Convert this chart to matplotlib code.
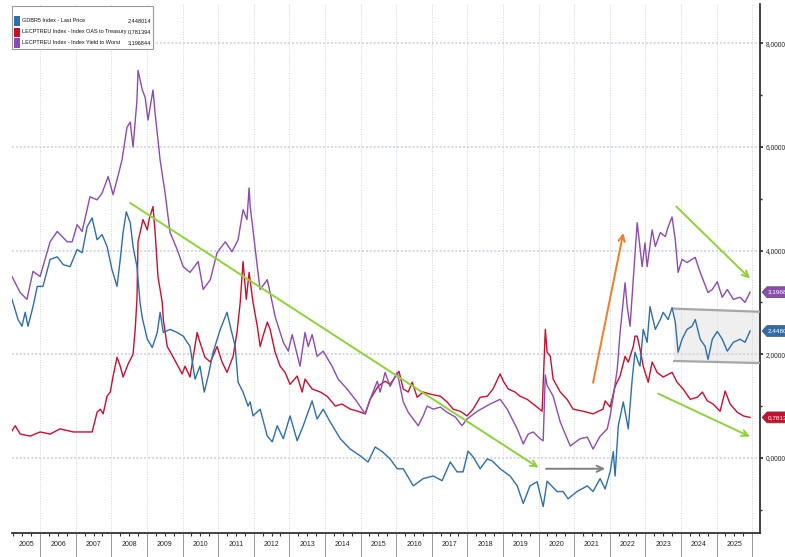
import matplotlib
matplotlib.use("Agg")
import matplotlib.pyplot as plt
import matplotlib.transforms as mtransforms
from matplotlib.patches import Polygon, Rectangle

# ---------------- data ----------------
ytw_t = [2005.21, 2005.44, 2005.63, 2005.80, 2006.00, 2006.28, 2006.48, 2006.76, 2006.90, 2007.04,
         2007.18, 2007.40, 2007.60, 2007.74, 2007.91, 2008.05, 2008.16, 2008.30, 2008.44, 2008.53,
         2008.61, 2008.72, 2008.75, 2008.87, 2008.95, 2009.03, 2009.17, 2009.23, 2009.37, 2009.51,
         2009.65, 2009.85, 2010.02, 2010.21, 2010.44, 2010.58, 2010.78, 2010.97, 2011.20, 2011.39,
         2011.56, 2011.70, 2011.81, 2011.87, 2011.90, 2011.98, 2012.10, 2012.18, 2012.38, 2012.46,
         2012.60, 2012.83, 2012.97, 2013.08, 2013.30, 2013.44, 2013.53, 2013.64, 2013.78, 2013.95,
         2014.20, 2014.37, 2014.62, 2014.85, 2015.13, 2015.27, 2015.47, 2015.55, 2015.69, 2015.83,
         2016.03, 2016.20, 2016.34, 2016.48, 2016.62, 2016.76, 2016.87, 2017.04, 2017.24, 2017.43,
         2017.66, 2017.85, 2017.99, 2018.28, 2018.64, 2018.92, 2019.12, 2019.40, 2019.57, 2019.71,
         2019.85, 2020.04, 2020.13, 2020.19, 2020.24, 2020.41, 2020.61, 2020.89, 2021.17, 2021.37,
         2021.53, 2021.73, 2021.93, 2022.01, 2022.10, 2022.21, 2022.29, 2022.43, 2022.49, 2022.57,
         2022.66, 2022.77, 2022.91, 2022.99, 2023.05, 2023.19, 2023.28, 2023.42, 2023.56, 2023.64,
         2023.75, 2023.84, 2023.92, 2024.03, 2024.17, 2024.31, 2024.40, 2024.54, 2024.62, 2024.76,
         2024.88, 2025.02, 2025.16, 2025.30, 2025.47, 2025.66, 2025.80, 2025.94]
ytw_v = [3.50, 3.19, 3.06, 3.60, 3.50, 4.17, 4.37, 4.17, 4.17, 4.50,
         4.37, 5.04, 4.98, 5.11, 5.43, 5.08, 5.37, 5.75, 6.38, 6.48,
         6.00, 6.90, 7.48, 7.10, 6.96, 6.52, 7.10, 6.65, 5.75, 5.11,
         4.35, 4.02, 3.69, 3.58, 3.79, 3.25, 3.44, 3.96, 4.17, 3.98,
         4.21, 4.79, 4.60, 5.21, 4.85, 4.40, 3.69, 3.25, 3.44, 3.19,
         2.73, 2.23, 2.06, 2.38, 1.77, 2.42, 2.15, 2.38, 1.96, 2.06,
         1.77, 1.52, 1.33, 1.13, 0.85, 1.13, 1.48, 1.27, 1.65, 1.38,
         1.65, 1.08, 0.88, 0.75, 0.62, 0.81, 1.00, 0.94, 0.98, 0.88,
         0.79, 0.62, 0.75, 0.90, 1.04, 1.13, 0.94, 0.56, 0.27, 0.46,
         0.50, 0.37, 0.33, 1.60, 1.40, 1.19, 0.69, 0.23, 0.37, 0.40,
         0.17, 0.42, 0.56, 0.81, 1.19, 1.71, 2.42, 3.38, 2.92, 2.54,
         3.44, 4.54, 3.69, 4.15, 3.69, 4.40, 4.08, 4.35, 4.27, 4.46,
         4.65, 4.21, 3.58, 3.83, 3.77, 3.83, 3.87, 3.58, 3.44, 3.19,
         3.25, 3.40, 3.10, 3.25, 3.06, 3.10, 3.00, 3.197]

gdbr_t = [2005.21, 2005.38, 2005.49, 2005.58, 2005.66, 2005.80, 2005.92, 2006.08, 2006.28, 2006.48,
          2006.65, 2006.84, 2007.04, 2007.18, 2007.32, 2007.46, 2007.60, 2007.74, 2007.88, 2008.02,
          2008.16, 2008.25, 2008.33, 2008.42, 2008.53, 2008.61, 2008.72, 2008.81, 2008.87, 2009.01,
          2009.15, 2009.29, 2009.37, 2009.46, 2009.65, 2009.85, 2010.02, 2010.21, 2010.35, 2010.49,
          2010.61, 2010.72, 2010.86, 2011.06, 2011.25, 2011.34, 2011.48, 2011.56, 2011.70, 2011.84,
          2011.90, 2011.98, 2012.04, 2012.18, 2012.38, 2012.52, 2012.66, 2012.83, 2013.02, 2013.22,
          2013.39, 2013.64, 2013.78, 2013.95, 2014.15, 2014.43, 2014.71, 2014.99, 2015.21, 2015.41,
          2015.61, 2015.83, 2016.03, 2016.20, 2016.48, 2016.76, 2017.04, 2017.29, 2017.52, 2017.71,
          2017.88, 2018.02, 2018.16, 2018.36, 2018.56, 2018.70, 2018.92, 2019.20, 2019.40, 2019.57,
          2019.76, 2019.96, 2020.13, 2020.24, 2020.52, 2020.69, 2020.83, 2021.08, 2021.37, 2021.53,
          2021.73, 2021.87, 2022.01, 2022.10, 2022.15, 2022.24, 2022.38, 2022.52, 2022.63, 2022.71,
          2022.80, 2022.85, 2022.94, 2023.05, 2023.13, 2023.28, 2023.42, 2023.50, 2023.64, 2023.75,
          2023.84, 2023.92, 2024.03, 2024.17, 2024.31, 2024.40, 2024.54, 2024.68, 2024.76, 2024.88,
          2025.02, 2025.16, 2025.30, 2025.47, 2025.66, 2025.80, 2025.94]
gdbr_v = [3.06, 2.67, 2.54, 2.81, 2.54, 2.92, 3.31, 3.31, 3.83, 3.88,
          3.73, 3.69, 4.02, 3.96, 4.46, 4.63, 4.21, 4.31, 4.08, 3.63,
          3.31, 3.83, 4.35, 4.75, 4.54, 4.08, 3.69, 2.98, 2.70, 2.29,
          2.13, 2.42, 2.81, 2.42, 2.48, 2.42, 2.35, 2.15, 1.52, 1.77,
          1.27, 1.58, 2.04, 2.48, 2.81, 2.54, 2.15, 1.46, 1.27, 1.00,
          1.08, 0.81, 0.85, 0.94, 0.42, 0.31, 0.62, 0.37, 0.81, 0.33,
          0.62, 1.10, 0.75, 0.94, 0.69, 0.37, 0.17, 0.04, -0.08, 0.21,
          0.12, -0.02, -0.21, -0.21, -0.54, -0.40, -0.35, -0.44, -0.08, -0.27,
          -0.27, 0.13, 0.02, -0.21, -0.02, -0.06, -0.21, -0.35, -0.54, -0.88,
          -0.54, -0.46, -0.94, -0.45, -0.65, -0.65, -0.79, -0.65, -0.54, -0.65,
          -0.40, -0.60, -0.27, 0.12, -0.35, 0.62, 1.08, 0.56, 1.52, 2.04,
          1.85, 1.77, 2.48, 2.23, 2.92, 2.48, 2.67, 2.81, 2.67, 2.90,
          2.62, 2.04, 2.29, 2.48, 2.54, 2.67, 2.29, 2.15, 1.90, 2.29,
          2.44, 2.29, 2.06, 2.23, 2.29, 2.23, 2.448]

oas_t = [2005.21, 2005.30, 2005.44, 2005.72, 2006.00, 2006.28, 2006.56, 2006.93, 2007.21, 2007.46,
         2007.60, 2007.69, 2007.77, 2007.88, 2007.97, 2008.05, 2008.16, 2008.25, 2008.33, 2008.47,
         2008.61, 2008.67, 2008.72, 2008.75, 2008.89, 2009.01, 2009.06, 2009.17, 2009.23, 2009.31,
         2009.43, 2009.46, 2009.57, 2009.74, 2009.99, 2010.07, 2010.21, 2010.41, 2010.49, 2010.63,
         2010.78, 2010.97, 2011.11, 2011.25, 2011.42, 2011.53, 2011.62, 2011.70, 2011.79, 2011.87,
         2011.98, 2012.10, 2012.18, 2012.26, 2012.38, 2012.46, 2012.60, 2012.74, 2012.88, 2013.02,
         2013.22, 2013.36, 2013.44, 2013.64, 2013.87, 2014.06, 2014.29, 2014.48, 2014.71, 2014.93,
         2015.13, 2015.27, 2015.49, 2015.69, 2015.83, 2016.03, 2016.08, 2016.20, 2016.34, 2016.45,
         2016.59, 2016.76, 2016.96, 2017.24, 2017.43, 2017.60, 2017.80, 2017.99, 2018.16, 2018.36,
         2018.56, 2018.72, 2018.92, 2019.01, 2019.15, 2019.34, 2019.48, 2019.68, 2019.96, 2020.10,
         2020.19, 2020.24, 2020.33, 2020.41, 2020.61, 2020.80, 2020.97, 2021.25, 2021.53, 2021.81,
         2021.87, 2022.01, 2022.15, 2022.29, 2022.43, 2022.52, 2022.66, 2022.71, 2022.77, 2022.85,
         2022.94, 2023.08, 2023.19, 2023.33, 2023.50, 2023.75, 2023.89, 2024.06, 2024.26, 2024.46,
         2024.60, 2024.74, 2024.90, 2025.10, 2025.24, 2025.38, 2025.58, 2025.75, 2025.94]
oas_v = [0.52, 0.62, 0.46, 0.42, 0.50, 0.46, 0.56, 0.50, 0.50, 0.50,
         0.88, 0.94, 0.85, 1.19, 1.27, 1.58, 1.94, 1.77, 1.56, 1.81,
         2.00, 2.48, 3.06, 4.17, 4.60, 4.40, 4.60, 4.85, 4.35, 3.50,
         3.00, 2.67, 2.15, 1.94, 1.62, 1.77, 1.56, 2.42, 2.23, 1.94,
         1.85, 2.15, 1.85, 1.65, 1.96, 2.42, 3.00, 3.79, 3.06, 3.58,
         3.00, 2.54, 2.15, 2.35, 2.62, 2.48, 2.04, 1.77, 1.65, 1.42,
         1.58, 1.27, 1.52, 1.33, 1.27, 1.19, 1.00, 1.04, 0.94, 0.90,
         0.85, 1.13, 1.38, 1.48, 1.42, 1.62, 1.67, 1.33, 1.27, 1.46,
         1.17, 1.27, 1.23, 1.19, 1.08, 0.94, 0.90, 0.81, 0.94, 1.17,
         1.19, 1.33, 1.62, 1.48, 1.33, 1.27, 1.19, 1.13, 0.98, 0.90,
         2.48, 2.04, 1.96, 1.52, 1.27, 1.13, 0.94, 0.90, 0.85, 0.94,
         1.10, 0.98, 1.38, 1.58, 1.96, 1.85, 2.15, 2.35, 2.35, 2.10,
         1.77, 1.46, 1.85, 1.65, 1.56, 1.65, 1.46, 1.33, 1.13, 1.17,
         1.27, 1.10, 1.04, 0.90, 1.29, 1.04, 0.88, 0.81, 0.781]

series_names = ["GDBR5 Index - Last Price",
                "LECPTREU Index - Index OAS to Treasury",
                "LECPTREU Index - Index Yield to Worst"]
last_labels = ["2,448014", "0,781394", "3,196844"]
years = list(range(2005, 2026))
y_major = [0, 2, 4, 6, 8]
y_minor = [-1, 1, 3, 5, 7]

# ---------------- style ----------------
C_BLUE = "#2f6eaa"
C_RED = "#c8102e"
C_PURP = "#8c4bb0"
C_GREEN = "#8fd13a"
C_ORANGE = "#f47b2a"
C_GRAY = "#7f7f7f"
FONT = ["Liberation Sans", "DejaVu Sans"]

W, H = 785, 557
fig = plt.figure(figsize=(W / 100, H / 100), dpi=100)
fig.patch.set_facecolor("white")
L, R, B, T = 12, 760, 533, 4
ax = fig.add_axes([L / W, 1 - B / H, (R - L) / W, (B - T) / H])
ax.set_xlim(2005.21, 2026.22)
ax.set_ylim(-1.45, 8.76)

ax.plot(oas_t, oas_v, color=C_RED, lw=1.0, zorder=3)
ax.plot(ytw_t, ytw_v, color=C_PURP, lw=1.0, zorder=3)
ax.plot(gdbr_t, gdbr_v, color=C_BLUE, lw=1.0, zorder=4)

# spines
for s in ["left", "top"]:
    ax.spines[s].set_visible(False)
ax.spines["right"].set_color("#333333")
ax.spines["right"].set_linewidth(1.3)
ax.spines["bottom"].set_color("#333333")
ax.spines["bottom"].set_linewidth(1.3)

# y axis on right
ax.yaxis.tick_right()
ax.set_yticks(y_major)
ax.set_yticklabels([f"{v:.6f}".replace(".", ",") for v in y_major],
                   fontsize=4.8, family=FONT, color="#222222")
ax.set_yticks(y_minor, minor=True)
ax.tick_params(axis="y", which="major", length=2.5, width=1.2, color="#222222", pad=1.5)
ax.tick_params(axis="y", which="minor", length=1.5, width=1.0, color="#222222")

# x axis
ax.set_xticks([y + 1 for y in years])
ax.set_xticklabels([])
ax.set_xticks([y + q / 4 for y in range(2005, 2027) for q in (1, 2, 3)
               if 2005.21 < y + q / 4 < 2026.22], minor=True)
ax.tick_params(axis="x", which="major", length=18, width=0.6, color="#888888")
ax.tick_params(axis="x", which="minor", length=2.2, width=0.8, color="#333333")
trans = mtransforms.blended_transform_factory(ax.transData, ax.transAxes)
for y in years:
    cx = y + 0.5 if y > 2005 else (2005.21 + 2006) / 2
    ax.text(cx, -(545 - B) / (B - T), str(y), transform=trans, ha="center", va="center",
            fontsize=5.0, family=FONT, color="#222222")

# grid
ax.grid(axis="x", which="major", color="#cfd4e0", ls=(0, (1, 1.5)), lw=0.7)
ax.grid(axis="y", which="major", color="#d3d7e2", ls=(0, (1, 1)), lw=1.4)
ax.set_axisbelow(True)

# ---------------- annotations ----------------
def arrow(x0, y0, x1, y1, color, lw=1.4):
    ax.annotate("", xy=(x1, y1), xytext=(x0, y0),
                arrowprops=dict(arrowstyle="->,head_length=0.45,head_width=0.22",
                                color=color, lw=lw, shrinkA=0, shrinkB=0), zorder=6)

arrow(2008.53, 4.92, 2020.00, -0.19, C_GREEN)
arrow(2020.21, -0.21, 2021.87, -0.21, C_GRAY)
arrow(2021.53, 1.45, 2022.38, 4.34, C_ORANGE)
arrow(2023.87, 4.85, 2025.94, 3.46, C_GREEN)
arrow(2023.36, 1.24, 2025.94, 0.41, C_GREEN)

box = Polygon([(2023.81, 2.88), (2026.22, 2.82), (2026.22, 1.83), (2023.81, 1.87)],
              closed=True, facecolor="#dcdcdc", alpha=0.45, edgecolor="none", zorder=2)
ax.add_patch(box)
ax.plot([2023.81, 2026.22], [2.88, 2.82], color="#a6a6a6", lw=1.6, zorder=5)
ax.plot([2023.81, 2026.22], [1.87, 1.83], color="#a6a6a6", lw=1.6, zorder=5)

# ---------------- last value tags ----------------
tag_tr = mtransforms.blended_transform_factory(ax.transAxes, ax.transData)
h = 5.5 / ((B - T) / (8.76 + 1.45))
for val, col, txt in [(3.197, C_PURP, last_labels[2]), (2.448, C_BLUE, last_labels[0]),
                      (0.781, C_RED, last_labels[1])]:
    x0 = 1 + 2 / (R - L)
    x1 = 1 + 7 / (R - L)
    x2 = 1 + 40 / (R - L)
    p = Polygon([(x0, val), (x1, val + h), (x2, val + h), (x2, val - h), (x1, val - h)],
                closed=True, facecolor=col, edgecolor="#555555", lw=0.5,
                transform=tag_tr, clip_on=False, zorder=7)
    ax.add_patch(p)
    ax.text(1 + 8 / (R - L), val, txt, transform=tag_tr, ha="left", va="center",
            fontsize=4.6, family=FONT, color="white", clip_on=False, zorder=8)

# ---------------- legend ----------------
def fx(x):
    return x / W

def fy(y):
    return 1 - y / H

fig.patches.append(Rectangle((fx(12), fy(49)), fx(153) - fx(12), fy(6) - fy(49),
                             transform=fig.transFigure, facecolor="white",
                             edgecolor="#9a9a9a", lw=0.8, zorder=10))
rows_y = [21, 32, 43]
for ry, col, name, lab in zip(rows_y, [C_BLUE, C_RED, C_PURP], series_names,
                              [last_labels[0], last_labels[1], last_labels[2]]):
    fig.patches.append(Rectangle((fx(14), fy(ry + 4.5)), fx(20) - fx(14), fy(ry - 4.5) - fy(ry + 4.5),
                                 transform=fig.transFigure, facecolor=col, edgecolor="none",
                                 zorder=11))
    fig.text(fx(22), fy(ry), name, ha="left", va="center", fontsize=4.0, family=FONT,
             color="#111111", zorder=12)
    fig.text(fx(151), fy(ry), lab, ha="right", va="center", fontsize=4.0, family=FONT,
             color="#111111", zorder=12)

fig.savefig("out.png", dpi=100)
